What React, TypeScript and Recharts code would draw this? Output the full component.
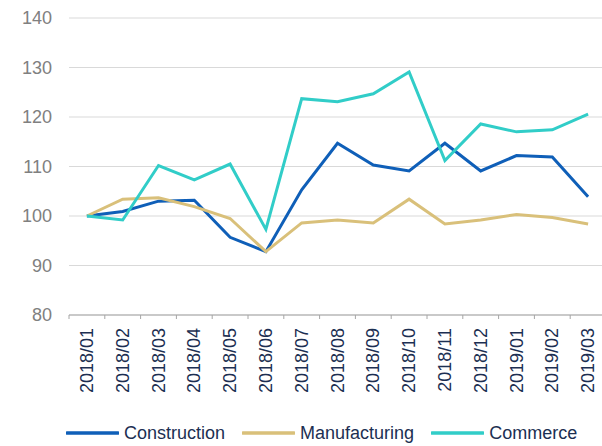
import React from "react";
import { LineChart, Line, XAxis, YAxis, CartesianGrid, Legend } from "recharts";

const categories = [
  "2018/01", "2018/02", "2018/03", "2018/04", "2018/05", "2018/06", "2018/07", "2018/08",
  "2018/09", "2018/10", "2018/11", "2018/12", "2019/01", "2019/02", "2019/03",
];
const construction = [100, 100.9, 103.0, 103.2, 95.7, 92.8, 105.3, 114.7, 110.3, 109.1, 114.7, 109.1, 112.2, 111.9, 103.9];
const manufacturing = [100, 103.4, 103.7, 101.9, 99.5, 92.8, 98.6, 99.2, 98.6, 103.4, 98.4, 99.2, 100.3, 99.7, 98.4];
const commerce = [100, 99.2, 110.2, 107.3, 110.5, 97.3, 123.7, 123.1, 124.7, 129.1, 111.2, 118.6, 117.0, 117.4, 120.6];
const yTicks = [80, 90, 100, 110, 120, 130, 140];

const seriesNames = ["Construction", "Manufacturing", "Commerce"];
const seriesColors = ["#0f5fb8", "#d9c07a", "#31cdc8"];

const data = categories.map((c, i) => ({
  month: c,
  Construction: construction[i],
  Manufacturing: manufacturing[i],
  Commerce: commerce[i],
}));

const FONT = "'Liberation Sans', Arial, sans-serif";
const NAVY = "#1c2f52";

const XTick = (props: any) => {
  const { x, y, payload, index, width, visibleTicksCount } = props;
  const half =
    payload && typeof payload.offset === "number" && payload.offset > 0
      ? payload.offset
      : width / visibleTicksCount / 2;
  const last = index === categories.length - 1;
  return (
    <g>
      <line x1={x - half} x2={x - half} y1={y} y2={y + 4} stroke="#a6a6a6" strokeWidth={1} />
      {last && <line x1={x + half} x2={x + half} y1={y} y2={y + 4} stroke="#a6a6a6" strokeWidth={1} />}
      <text
        x={0}
        y={0}
        transform={`translate(${x},${y + 13}) rotate(-90)`}
        textAnchor="end"
        dominantBaseline="central"
        fill={NAVY}
        fontSize={18}
        fontFamily={FONT}
      >
        {payload.value}
      </text>
    </g>
  );
};

const renderLegend = () => (
  <div
    style={{
      display: "flex",
      alignItems: "center",
      height: 26,
      paddingLeft: 66,
      fontFamily: FONT,
      fontSize: 18,
      color: NAVY,
      boxSizing: "border-box",
    }}
  >
    {seriesNames.map((n, i) => (
      <div key={n} style={{ display: "flex", alignItems: "center", marginRight: 17 }}>
        <svg width={53} height={6} style={{ marginRight: 5 }}>
          <line x1={1} x2={52} y1={3} y2={3} stroke={seriesColors[i]} strokeWidth={3.5} strokeLinecap="round" />
        </svg>
        <span>{n}</span>
      </div>
    ))}
  </div>
);

export default function App() {
  return (
    <div style={{ position: "absolute", left: 0, top: 0, width: 602, height: 446, overflow: "hidden", background: "#fff" }}>
      <LineChart width={608} height={446} data={data} margin={{ top: 18, right: 2, left: 0, bottom: 0 }}>
        <CartesianGrid vertical={false} stroke="#d9d9d9" strokeWidth={1} />
        <XAxis
          dataKey="month"
          scale="band"
          interval={0}
          height={105}
          tickSize={0}
          tickMargin={0}
          tickLine={false}
          axisLine={{ stroke: "#a6a6a6", strokeWidth: 1 }}
          tick={<XTick />}
        />
        <YAxis
          width={69}
          domain={[80, 140]}
          ticks={yTicks}
          axisLine={false}
          tickLine={false}
          tickSize={6}
          tickMargin={11}
          tick={{ fill: "#808080", fontSize: 18, fontFamily: FONT }}
        />
        <Legend verticalAlign="bottom" height={26} wrapperStyle={{ left: 0, width: 602 }} content={renderLegend} />
        {seriesNames.map((n, i) => (
          <Line
            key={n}
            type="linear"
            dataKey={n}
            stroke={seriesColors[i]}
            strokeWidth={3}
            dot={false}
            activeDot={false}
            isAnimationActive={false}
          />
        ))}
      </LineChart>
    </div>
  );
}
